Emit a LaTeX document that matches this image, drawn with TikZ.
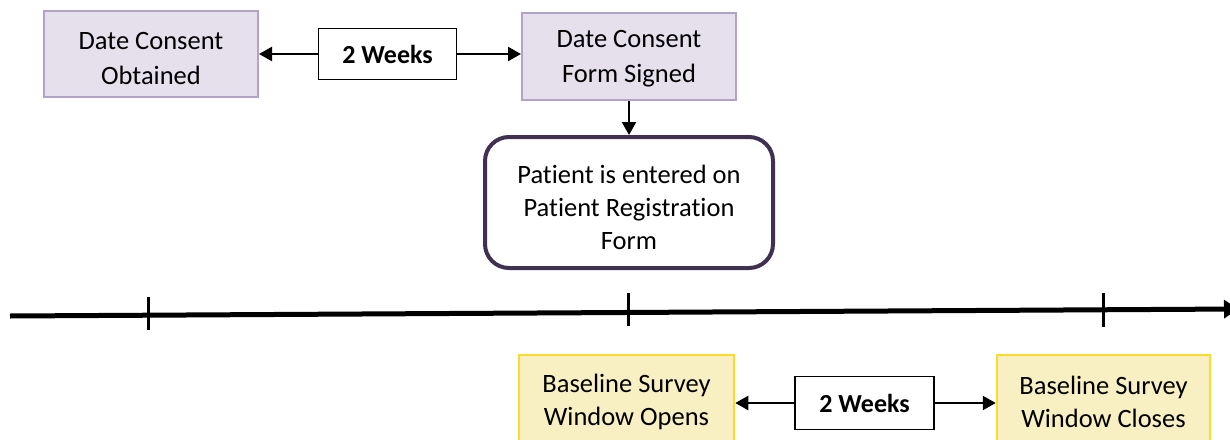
\documentclass[tikz,border=0pt]{standalone}
\usepackage{fontspec}
\setmainfont[Ligatures=NoCommon]{Carlito}
\usetikzlibrary{arrows.meta}
\definecolor{lavfill}{HTML}{E5E0EC}
\definecolor{lavdraw}{HTML}{B3A2C7}
\definecolor{yelfill}{HTML}{F8F0C2}
\definecolor{yeldraw}{HTML}{FFD92F}
\definecolor{purdraw}{HTML}{403152}
\tikzset{
  txt/.style={align=center, font=\fontsize{26.5}{35}\selectfont, inner sep=0pt},
  lavbox/.style={fill=lavfill, draw=lavdraw, line width=2pt, minimum width=214pt, minimum height=86pt, inner sep=0pt},
  yelbox/.style={fill=yelfill, draw=yeldraw, line width=2.5pt, minimum width=214pt, minimum height=90pt, inner sep=0pt},
  wkbox/.style={align=center, font=\fontsize{26}{30}\selectfont\bfseries, inner sep=0pt, draw=black, line width=1.3pt, fill=white, minimum width=138pt, minimum height=51pt},
  regbox/.style={draw=purdraw, line width=4pt, rounded corners=24pt, fill=white, minimum width=288pt, minimum height=131pt, inner sep=0pt},
  conn/.style={line width=2.3pt, -{Triangle[length=13pt,width=14pt]}},
  tick/.style={line width=3pt}
}
\begin{document}
\begin{tikzpicture}[x=1pt,y=-1pt]
\useasboundingbox (0,0) rectangle (1230,439);
% top row
\node[lavbox] (b1) at (151,54) {};
\node[txt] (b1t) at ([yshift=-4pt]b1.center) {Date Consent\\Obtained};
\node[lavbox, minimum height=87pt] (b2) at (629,56.5) {};
\node[txt] (b2t) at ([yshift=-2pt]b2.center) {Date Consent\\Form Signed};
\node[wkbox] (w1) at (387.5,54) {2 Weeks};
\draw[conn] (w1.west) -- (w1.west -| b1.east);
\draw[conn] (w1.east) -- (w1.east -| b2.west);
% registration
\node[regbox] (r) at (629,202.5) {};
\node[txt, font=\fontsize{26.5}{33}\selectfont] (rt) at ([yshift=-5pt]r.center) {Patient is entered on\\Patient Registration\\Form};
\draw[conn] (b2.south) -- (r.north);
% timeline
\coordinate (tl) at (10,316);
\coordinate (tr) at (1238,309);
\draw[line width=5pt, -{Triangle[length=14pt,width=18pt]}] (tl) -- (tr);
\coordinate (t1a) at (148,297); \coordinate (t1b) at (148,330);
\coordinate (t2a) at (628,293); \coordinate (t2b) at (628,326);
\coordinate (t3a) at (1103,293); \coordinate (t3b) at (1103,327);
\draw[tick] (t1a) -- (t1b);
\draw[tick] (t2a) -- (t2b);
\draw[tick] (t3a) -- (t3b);
% bottom row
\node[yelbox, minimum width=215pt] (c1) at (626.5,400) {};
\node[txt, font=\fontsize{26.5}{33}\selectfont] (c1t) at ([yshift=-2pt]c1.center) {Baseline Survey\\Window Opens};
\node[yelbox, minimum width=213pt] (c2) at (1103.5,400) {};
\node[txt, font=\fontsize{26.5}{33}\selectfont] (c2t) at ([yshift=-2pt]c2.center) {Baseline Survey\\Window Closes};
\node[wkbox, minimum width=139pt, minimum height=53pt] (w2) at (864.5,403) {2 Weeks};
\draw[conn] (w2.west) -- (w2.west -| c1.east);
\draw[conn] (w2.east) -- (w2.east -| c2.west);
\end{tikzpicture}
\end{document}
